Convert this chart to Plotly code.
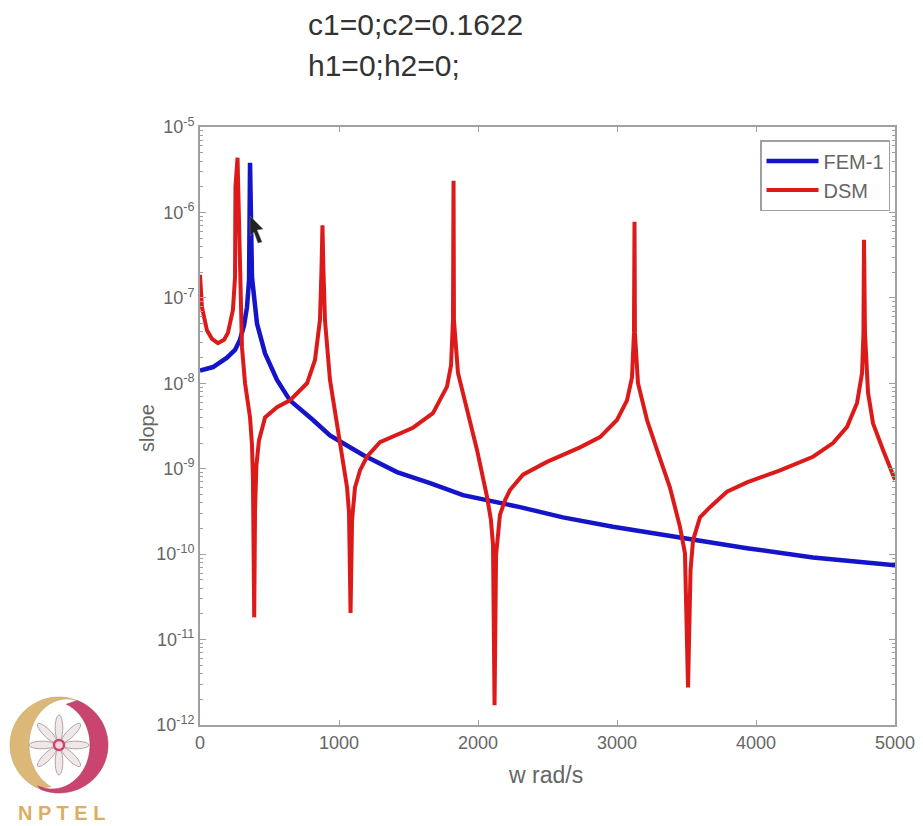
import math
import plotly.graph_objects as go

W, H = 923, 826

fem_w = [0, 94, 194, 252, 288, 317, 338, 353, 360, 374, 410, 468, 554, 647, 813, 935, 1173, 1417, 1655,
         1892, 2302, 2611, 2971, 3453, 3935, 4410, 5000]
fem_log10_slope = [-7.85, -7.81, -7.70, -7.61, -7.49, -7.32, -7.11, -6.79, -5.42, -6.76, -7.30, -7.65, -7.96,
                   -8.20, -8.43, -8.61, -8.84, -9.04, -9.17, -9.31, -9.45, -9.57, -9.68, -9.81, -9.93,
                   -10.04, -10.13]

dsm_w = [0, 14, 50, 86, 129, 173, 201, 237, 252, 255, 270, 281, 288, 302, 324, 360, 374, 381, 390, 396, 406, 424,
         468, 554, 647, 770, 827, 863, 874, 881, 888, 899, 935, 978, 1007, 1058, 1072, 1083, 1094, 1115, 1151,
         1201, 1295, 1532, 1676, 1777, 1806, 1820, 1824, 1827, 1856, 1921, 1993, 2065, 2093, 2108, 2119, 2130,
         2158, 2194, 2230, 2324, 2496, 2734, 2878, 3000, 3072, 3108, 3122, 3126, 3129, 3151, 3216, 3288, 3381,
         3453, 3489, 3511, 3529, 3547, 3597, 3669, 3791, 3935, 4173, 4410, 4554, 4655, 4727, 4763, 4773, 4777,
         4784, 4806, 4842, 4914, 5000]
dsm_log10_slope = [-6.73, -7.11, -7.38, -7.48, -7.53, -7.49, -7.41, -7.14, -6.76, -5.70, -5.36, -6.09, -7.03,
                   -7.58, -8.00, -8.40, -8.72, -9.13, -10.74, -9.48, -8.96, -8.67,
                   -8.40, -8.28, -8.20, -8.00, -7.73, -7.26, -6.67, -6.15, -6.67, -7.26, -7.96, -8.40, -8.70,
                   -9.22, -9.51, -10.69, -9.60, -9.22, -9.02,
                   -8.86, -8.69, -8.52, -8.35, -8.04, -7.79, -7.26, -5.63, -7.26, -7.88, -8.31, -8.78, -9.33,
                   -9.60, -9.89, -11.77, -10.01,
                   -9.54, -9.37, -9.25, -9.07, -8.92, -8.75, -8.63, -8.43, -8.20, -7.93, -7.41, -6.11, -7.41,
                   -8.00, -8.43, -8.78, -9.22,
                   -9.68, -9.99, -11.56, -10.19, -9.84, -9.57, -9.45, -9.27, -9.16, -9.02, -8.86, -8.70, -8.51,
                   -8.23, -7.88, -7.41, -6.32,
                   -7.41, -8.11, -8.47, -8.78, -9.13]

x_ticks = [0, 1000, 2000, 3000, 4000, 5000]
y_ticks = [1e-5, 1e-6, 1e-7, 1e-8, 1e-9, 1e-10, 1e-11, 1e-12]
y_tick_labels = ["10<sup>-5</sup>", "10<sup>-6</sup>", "10<sup>-7</sup>", "10<sup>-8</sup>",
                 "10<sup>-9</sup>", "10<sup>-10</sup>", "10<sup>-11</sup>", "10<sup>-12</sup>"]
header_lines = ["c1=0;c2=0.1622", "h1=0;h2=0;"]

FONT = "Liberation Sans"
GREY = "#666666"
AXIS = "#a0a0a0"


def P(x, y):
    return f"{x / W:.5f} {1 - y / H:.5f}"


def arc(cx, cy, rx, ry, a0, a1, n=40):
    pts = []
    for i in range(n + 1):
        a = math.radians(a0 + (a1 - a0) * i / n)
        pts.append((cx + rx * math.cos(a), cy + ry * math.sin(a)))
    return pts


def poly(pts):
    return "M " + " L ".join(P(*q) for q in pts) + " Z"


shapes = []
cx, cy = 59, 745
# gold crescent (upper left)
gold = arc(cx, cy, 49, 48, 285, 115) + arc(cx + 8, cy, 38, 46, 115, 285)
shapes.append(dict(type="path", xref="paper", yref="paper", path=poly(gold),
                   fillcolor="#dcb878", line=dict(color="#c09a60", width=0.5), layer="below"))
# crimson crescent (right)
crim = arc(cx, cy, 49, 48, -68, 112) + arc(cx - 7, cy, 38, 44, 112, -68)
shapes.append(dict(type="path", xref="paper", yref="paper", path=poly(crim),
                   fillcolor="#c9446f", line=dict(color="#a8305a", width=0.5), layer="below"))
# eight petals of the star
for k in range(8):
    t = math.radians(45 * k)
    pts = []
    for i in range(25):
        a = 2 * math.pi * i / 24
        u, v = 17 + 13 * math.cos(a), 3.8 * math.sin(a)
        pts.append((cx + u * math.cos(t) - v * math.sin(t), cy + u * math.sin(t) + v * math.cos(t)))
    shapes.append(dict(type="path", xref="paper", yref="paper", path=poly(pts),
                       fillcolor="#f0e8e8", line=dict(color="#b0a2a4", width=1), layer="below"))
shapes.append(dict(type="circle", xref="paper", yref="paper",
                   x0=(cx - 5) / W, x1=(cx + 5) / W, y0=1 - (cy + 5) / H, y1=1 - (cy - 5) / H,
                   fillcolor="#f3d5de", line=dict(color="#c9446f", width=2.5), layer="below"))
# mouse pointer captured in the reference
pointer = [(250, 216), (263, 229), (257, 230), (262, 242), (258, 243), (254, 232), (250, 236)]
shapes.append(dict(type="path", xref="paper", yref="paper", path=poly(pointer),
                   fillcolor="#222222", line=dict(color="#777777", width=0.5), layer="above"))

annotations = [
    dict(text=header_lines[0], x=306 / W, y=1 - 25 / H, font=dict(size=30, color="#333333")),
    dict(text=header_lines[1], x=306 / W, y=1 - 65 / H, font=dict(size=30, color="#333333")),
    dict(text="w rad/s", x=506 / W, y=1 - 775 / H, font=dict(size=23, color=GREY)),
    dict(text="slope", x=147 / W, y=1 - 428 / H, textangle=-90, font=dict(size=20, color=GREY)),
    dict(text="<b>N P T E L</b>", x=16 / W, y=1 - 813 / H, font=dict(size=20, color="#dcae62")),
]
for a in annotations:
    a.update(xref="paper", yref="paper", xanchor="left", yanchor="middle", showarrow=False)
annotations[3].update(xanchor="center")

fig = go.Figure()
fig.add_trace(go.Scatter(x=fem_w, y=[10 ** v for v in fem_log10_slope], mode="lines", name="FEM-1",
                         line=dict(color="#1414c8", width=4.5)))
fig.add_trace(go.Scatter(x=dsm_w, y=[10 ** v for v in dsm_log10_slope], mode="lines", name="DSM",
                         line=dict(color="#dc1a1a", width=4)))

fig.update_layout(
    width=W, height=H, autosize=False,
    margin=dict(l=0, r=0, t=0, b=0),
    paper_bgcolor="white", plot_bgcolor="white",
    font=dict(family=FONT, color=GREY),
    shapes=shapes, annotations=annotations,
    legend=dict(x=890 / W, y=1 - 140 / H, xanchor="right", yanchor="top",
                bgcolor="white", bordercolor=AXIS, borderwidth=1.5,
                font=dict(size=20, color=GREY), itemwidth=52),
)
fig.update_xaxes(
    domain=[200 / W, 895 / W], range=[0, 5000], tickvals=x_ticks, ticks="inside", ticklen=5,
    showgrid=False, zeroline=False, showline=True, mirror="ticks", linecolor=AXIS, linewidth=2,
    tickcolor=AXIS, tickfont=dict(size=18, color=GREY), automargin=False,
)
fig.update_yaxes(
    type="log", domain=[1 - 725 / H, 1 - 127 / H], range=[-12, -5], tickvals=y_ticks, ticktext=y_tick_labels,
    ticks="inside", ticklen=6, showgrid=False, zeroline=False, showline=True, mirror="ticks",
    linecolor=AXIS, linewidth=2, tickcolor=AXIS, tickfont=dict(size=18, color=GREY), automargin=False,
    minor=dict(ticks="inside", ticklen=3, tickcolor=AXIS, dtick="D1", showgrid=False),
)
fig.write_html("out.html", config=dict(displayModeBar=False),
               post_script="document.body.style.margin='0';")
